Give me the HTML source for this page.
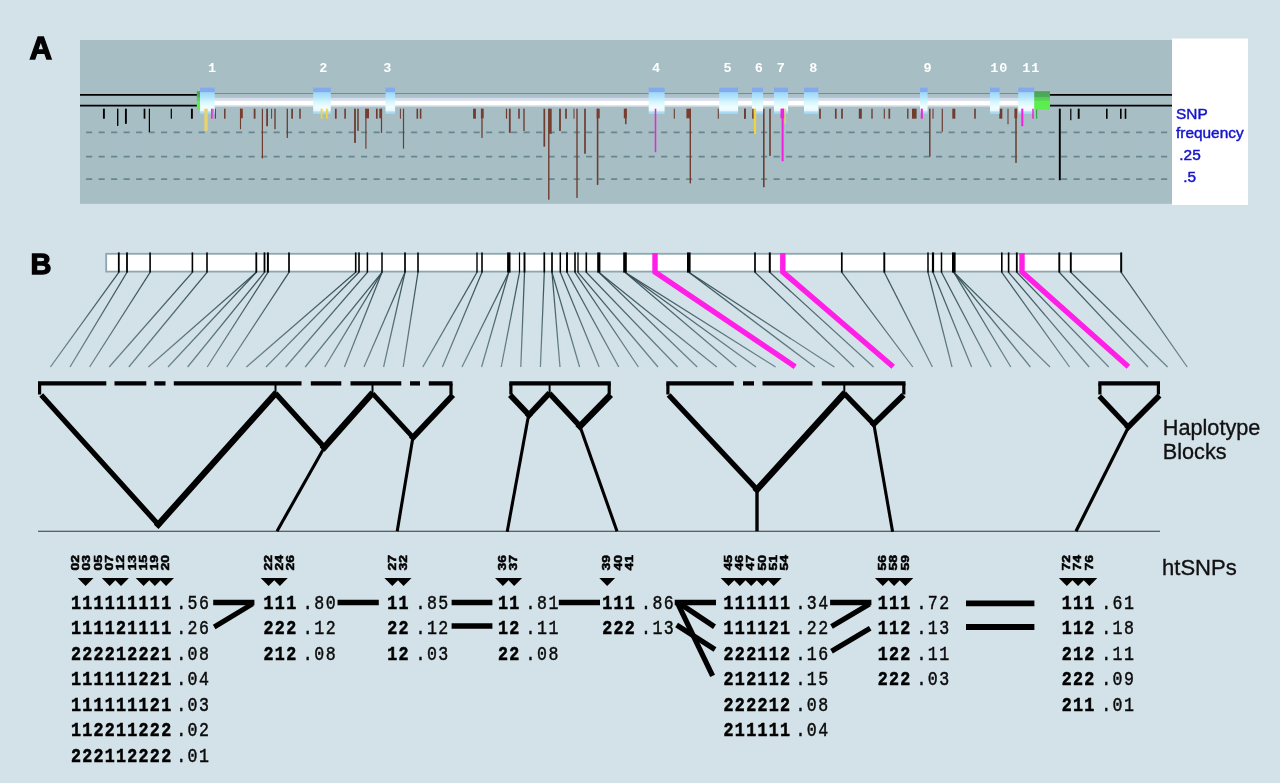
<!DOCTYPE html>
<html><head><meta charset="utf-8"><title>Figure</title>
<style>html,body{margin:0;padding:0;background:#d3e1e8;overflow:hidden}svg{display:block}text{font-family:"Liberation Sans",sans-serif}.m{font-family:"Liberation Mono",monospace}</style>
</head><body>
<svg width="1280" height="783" viewBox="0 0 1280 783">
<defs>
<linearGradient id="tube" x1="0" y1="0" x2="0" y2="1"><stop offset="0" stop-color="#6f8f95"/><stop offset="0.05" stop-color="#6f8f95"/><stop offset="0.06" stop-color="#a9bec7"/><stop offset="0.30" stop-color="#aec2cc"/><stop offset="0.34" stop-color="#d2dbe9"/><stop offset="0.52" stop-color="#dde4f0"/><stop offset="0.58" stop-color="#ffffff"/><stop offset="0.80" stop-color="#ffffff"/><stop offset="0.87" stop-color="#d6e0e8"/><stop offset="0.95" stop-color="#c0d0d8"/><stop offset="1" stop-color="#a8bdc3"/></linearGradient>
<linearGradient id="fan" gradientUnits="userSpaceOnUse" x1="0" y1="272" x2="0" y2="367"><stop offset="0" stop-color="#2c464e" stop-opacity="0.95"/><stop offset="1" stop-color="#3c5a64" stop-opacity="0.68"/></linearGradient>
<linearGradient id="exon" x1="0" y1="0" x2="0" y2="1"><stop offset="0" stop-color="#83aaec"/><stop offset="0.17" stop-color="#83aaec"/><stop offset="0.19" stop-color="#9fd6f8"/><stop offset="0.38" stop-color="#b4e6fb"/><stop offset="0.55" stop-color="#d6f6fd"/><stop offset="0.75" stop-color="#f2fdff"/><stop offset="0.88" stop-color="#e6f8ff"/><stop offset="0.93" stop-color="#a6dcf8"/><stop offset="1" stop-color="#a6dcf8"/></linearGradient>
<linearGradient id="grn" x1="0" y1="0" x2="0" y2="1"><stop offset="0" stop-color="#4aa257"/><stop offset="0.30" stop-color="#4cac58"/><stop offset="0.34" stop-color="#56c957"/><stop offset="0.50" stop-color="#58d854"/><stop offset="0.56" stop-color="#5cee4e"/><stop offset="1" stop-color="#5cee4e"/></linearGradient>
<linearGradient id="mag" x1="0" y1="0" x2="1" y2="0"><stop offset="0" stop-color="#c030c8"/><stop offset="1" stop-color="#ff7fe4"/></linearGradient>
</defs>
<rect x="0" y="0" width="1280" height="783" fill="#d3e1e8"/>
<g opacity="0.999">
<rect x="80" y="40" width="1092" height="163.8" fill="#a7bec5"/>
<rect x="1172" y="38.5" width="76" height="166.5" fill="#ffffff"/>
<line x1="86.1" y1="132.3" x2="1172" y2="132.3" stroke="#67868f" stroke-width="1.7" stroke-dasharray="6.1 6.4"/>
<line x1="86.1" y1="156.7" x2="1172" y2="156.7" stroke="#67868f" stroke-width="1.7" stroke-dasharray="6.1 6.4"/>
<line x1="86.1" y1="179.1" x2="1172" y2="179.1" stroke="#67868f" stroke-width="1.7" stroke-dasharray="6.1 6.4"/>
<line x1="80" y1="94.9" x2="197.5" y2="94.9" stroke="#000" stroke-width="1.7"/>
<line x1="1049" y1="94.9" x2="1172" y2="94.9" stroke="#000" stroke-width="1.7"/>
<line x1="80" y1="105.7" x2="197.5" y2="105.7" stroke="#000" stroke-width="1.7"/>
<line x1="1049" y1="105.7" x2="1172" y2="105.7" stroke="#000" stroke-width="1.7"/>
<rect x="205" y="93" width="830" height="14.6" fill="url(#tube)"/>
<rect x="102.95" y="108.7" width="1.90" height="10.00" fill="#000000"/>
<rect x="117.00" y="108.7" width="1.40" height="17.20" fill="#000000"/>
<rect x="124.95" y="108.7" width="1.90" height="15.10" fill="#000000"/>
<rect x="143.65" y="108.7" width="1.70" height="10.00" fill="#000000"/>
<rect x="148.80" y="108.7" width="1.20" height="23.30" fill="#000000"/>
<rect x="170.70" y="108.7" width="1.20" height="10.00" fill="#000000"/>
<rect x="190.95" y="108.7" width="1.90" height="10.00" fill="#000000"/>
<rect x="214.85" y="108.7" width="1.10" height="10.00" fill="#6e3c30"/>
<rect x="224.05" y="108.7" width="1.50" height="10.00" fill="#6e3c30"/>
<rect x="239.95" y="108.7" width="1.10" height="20.50" fill="#6e3c30"/>
<rect x="240.00" y="108.7" width="2.80" height="9.60" fill="#7a3c2d"/>
<rect x="253.70" y="108.7" width="1.80" height="10.00" fill="#6e3c30"/>
<rect x="261.80" y="108.7" width="1.20" height="49.70" fill="#6e3c30"/>
<rect x="266.20" y="108.7" width="1.80" height="17.50" fill="#6e3c30"/>
<rect x="271.10" y="108.7" width="1.00" height="10.00" fill="#6e3c30"/>
<rect x="274.30" y="108.7" width="1.40" height="20.50" fill="#6e3c30"/>
<rect x="286.65" y="108.7" width="1.30" height="29.20" fill="#6e3c30"/>
<rect x="291.25" y="108.7" width="1.70" height="10.00" fill="#6e3c30"/>
<rect x="299.25" y="108.7" width="1.50" height="10.00" fill="#6e3c30"/>
<rect x="334.95" y="108.7" width="1.70" height="10.00" fill="#6e3c30"/>
<rect x="344.30" y="108.7" width="1.60" height="10.00" fill="#6e3c30"/>
<rect x="354.10" y="108.7" width="1.80" height="34.20" fill="#6e3c30"/>
<rect x="357.25" y="108.7" width="1.50" height="22.20" fill="#6e3c30"/>
<rect x="365.30" y="108.7" width="1.20" height="40.00" fill="#6e3c30"/>
<rect x="365.40" y="108.7" width="3.60" height="9.60" fill="#7a3c2d"/>
<rect x="375.95" y="108.7" width="1.70" height="10.00" fill="#6e3c30"/>
<rect x="380.90" y="108.7" width="1.20" height="24.20" fill="#6e3c30"/>
<rect x="379.30" y="108.7" width="2.60" height="9.60" fill="#7a3c2d"/>
<rect x="399.90" y="108.7" width="1.00" height="10.00" fill="#6e3c30"/>
<rect x="402.90" y="108.7" width="1.20" height="40.00" fill="#6e3c30"/>
<rect x="416.50" y="108.7" width="1.60" height="10.00" fill="#6e3c30"/>
<rect x="419.80" y="108.7" width="1.60" height="10.00" fill="#6e3c30"/>
<rect x="473.10" y="108.7" width="2.80" height="10.00" fill="#6e3c30"/>
<rect x="481.35" y="108.7" width="1.30" height="29.20" fill="#6e3c30"/>
<rect x="480.90" y="108.7" width="2.80" height="9.60" fill="#7a3c2d"/>
<rect x="505.90" y="108.7" width="1.20" height="10.00" fill="#6e3c30"/>
<rect x="508.90" y="108.7" width="1.80" height="24.20" fill="#6e3c30"/>
<rect x="518.20" y="108.7" width="1.60" height="10.00" fill="#6e3c30"/>
<rect x="523.30" y="108.7" width="1.40" height="22.20" fill="#6e3c30"/>
<rect x="543.45" y="108.7" width="1.70" height="38.00" fill="#6e3c30"/>
<rect x="548.10" y="108.7" width="1.40" height="91.00" fill="#6e3c30"/>
<rect x="548.90" y="108.7" width="2.80" height="25.10" fill="#7a3c2d"/>
<rect x="559.10" y="108.7" width="1.80" height="22.20" fill="#6e3c30"/>
<rect x="565.15" y="108.7" width="1.70" height="10.00" fill="#6e3c30"/>
<rect x="573.50" y="108.7" width="1.00" height="10.00" fill="#6e3c30"/>
<rect x="576.30" y="108.7" width="1.40" height="89.20" fill="#6e3c30"/>
<rect x="584.15" y="108.7" width="1.70" height="45.00" fill="#6e3c30"/>
<rect x="596.80" y="108.7" width="1.60" height="76.20" fill="#6e3c30"/>
<rect x="596.70" y="108.7" width="3.00" height="9.60" fill="#7a3c2d"/>
<rect x="625.05" y="108.7" width="1.50" height="15.50" fill="#6e3c30"/>
<rect x="623.80" y="108.7" width="3.00" height="9.60" fill="#7a3c2d"/>
<rect x="673.75" y="108.7" width="1.10" height="10.00" fill="#6e3c30"/>
<rect x="689.60" y="108.7" width="1.40" height="74.70" fill="#6e3c30"/>
<rect x="686.40" y="108.7" width="4.20" height="9.60" fill="#7a3c2d"/>
<rect x="717.75" y="108.7" width="1.10" height="10.00" fill="#6e3c30"/>
<rect x="744.20" y="108.7" width="1.60" height="10.00" fill="#6e3c30"/>
<rect x="763.00" y="108.7" width="1.60" height="78.50" fill="#6e3c30"/>
<rect x="769.20" y="108.7" width="1.60" height="47.20" fill="#6e3c30"/>
<rect x="744.00" y="108.7" width="1.60" height="10.00" fill="#6e3c30"/>
<rect x="819.15" y="108.7" width="1.70" height="10.00" fill="#6e3c30"/>
<rect x="834.95" y="108.7" width="1.70" height="10.00" fill="#6e3c30"/>
<rect x="841.15" y="108.7" width="1.70" height="10.00" fill="#6e3c30"/>
<rect x="858.80" y="108.7" width="3.00" height="10.00" fill="#6e3c30"/>
<rect x="871.30" y="108.7" width="1.40" height="10.00" fill="#6e3c30"/>
<rect x="883.75" y="108.7" width="1.10" height="10.00" fill="#6e3c30"/>
<rect x="888.45" y="108.7" width="1.70" height="10.00" fill="#6e3c30"/>
<rect x="907.10" y="108.7" width="1.40" height="10.00" fill="#6e3c30"/>
<rect x="912.00" y="108.7" width="4.60" height="10.00" fill="#6e3c30"/>
<rect x="929.05" y="108.7" width="1.50" height="48.00" fill="#6e3c30"/>
<rect x="932.45" y="108.7" width="1.10" height="10.00" fill="#6e3c30"/>
<rect x="941.70" y="108.7" width="1.20" height="23.00" fill="#6e3c30"/>
<rect x="952.30" y="108.7" width="3.00" height="10.00" fill="#6e3c30"/>
<rect x="974.20" y="108.7" width="1.60" height="10.00" fill="#6e3c30"/>
<rect x="999.30" y="108.7" width="3.00" height="10.00" fill="#6e3c30"/>
<rect x="1007.45" y="108.7" width="1.10" height="15.50" fill="#6e3c30"/>
<rect x="1015.25" y="108.7" width="1.50" height="54.20" fill="#6e3c30"/>
<rect x="1014.40" y="108.7" width="2.80" height="9.60" fill="#7a3c2d"/>
<rect x="1036.00" y="108.7" width="1.20" height="10.00" fill="#2faa3c"/>
<rect x="1058.85" y="108.7" width="1.90" height="71.50" fill="#000000"/>
<rect x="1070.20" y="108.7" width="1.20" height="11.50" fill="#000000"/>
<rect x="1077.75" y="108.7" width="1.90" height="10.10" fill="#000000"/>
<rect x="1106.00" y="108.7" width="1.60" height="10.10" fill="#000000"/>
<rect x="1120.00" y="108.7" width="1.60" height="10.10" fill="#000000"/>
<rect x="1124.70" y="108.7" width="1.60" height="10.10" fill="#000000"/>
<rect x="196.8" y="91.2" width="4" height="18.8" fill="url(#grn)"/>
<rect x="1034" y="91.2" width="16" height="18.4" fill="url(#grn)"/>
<rect x="200.0" y="87.6" width="14.7" height="26.2" fill="url(#exon)"/>
<rect x="313.2" y="87.6" width="17.6" height="26.2" fill="url(#exon)"/>
<rect x="385.5" y="87.6" width="9.6" height="26.2" fill="url(#exon)"/>
<rect x="648.7" y="87.6" width="15.9" height="26.2" fill="url(#exon)"/>
<rect x="719.2" y="87.6" width="18.9" height="26.2" fill="url(#exon)"/>
<rect x="752.0" y="87.6" width="11.1" height="26.2" fill="url(#exon)"/>
<rect x="774.0" y="87.6" width="14.1" height="26.2" fill="url(#exon)"/>
<rect x="804.0" y="87.6" width="14.3" height="26.2" fill="url(#exon)"/>
<rect x="920.0" y="87.6" width="7.6" height="26.2" fill="url(#exon)"/>
<rect x="990.0" y="87.6" width="9.6" height="26.2" fill="url(#exon)"/>
<rect x="1018.2" y="87.6" width="16.0" height="26.2" fill="url(#exon)"/>
<rect x="204.30" y="108.7" width="3.40" height="22.20" fill="#e6d36e"/>
<rect x="211.00" y="108.7" width="3.00" height="10.00" fill="url(#mag)"/>
<rect x="320.70" y="108.7" width="1.80" height="10.00" fill="#f2d43a"/>
<rect x="326.00" y="108.7" width="1.80" height="10.00" fill="#f2d43a"/>
<rect x="654.75" y="108.7" width="1.50" height="43.50" fill="#f41ee0"/>
<rect x="752.15" y="108.7" width="1.50" height="10.00" fill="#6e3c30"/>
<rect x="753.90" y="108.7" width="2.20" height="25.50" fill="#f2d43a"/>
<rect x="784.50" y="108.7" width="1.40" height="15.50" fill="#f2d43a"/>
<rect x="781.60" y="108.7" width="2.00" height="52.50" fill="#f41ee0"/>
<rect x="780.50" y="108.7" width="3.60" height="9.60" fill="#f41ee0"/>
<rect x="920.80" y="108.7" width="2.00" height="10.00" fill="#f41ee0"/>
<rect x="1021.30" y="108.7" width="2.00" height="17.50" fill="#f41ee0"/>
<rect x="1032.25" y="108.7" width="1.50" height="10.00" fill="#f41ee0"/>
<text class="m" x="212.0" y="72.0" font-size="13.5" font-weight="bold" fill="#ffffff" text-anchor="middle">1</text>
<text class="m" x="323.3" y="72.0" font-size="13.5" font-weight="bold" fill="#ffffff" text-anchor="middle">2</text>
<text class="m" x="387.3" y="72.0" font-size="13.5" font-weight="bold" fill="#ffffff" text-anchor="middle">3</text>
<text class="m" x="656.0" y="72.0" font-size="13.5" font-weight="bold" fill="#ffffff" text-anchor="middle">4</text>
<text class="m" x="727.5" y="72.0" font-size="13.5" font-weight="bold" fill="#ffffff" text-anchor="middle">5</text>
<text class="m" x="758.8" y="72.0" font-size="13.5" font-weight="bold" fill="#ffffff" text-anchor="middle">6</text>
<text class="m" x="780.8" y="72.0" font-size="13.5" font-weight="bold" fill="#ffffff" text-anchor="middle">7</text>
<text class="m" x="813.3" y="72.0" font-size="13.5" font-weight="bold" fill="#ffffff" text-anchor="middle">8</text>
<text class="m" x="927.5" y="72.0" font-size="13.5" font-weight="bold" fill="#ffffff" text-anchor="middle">9</text>
<text class="m" x="994.4 1003.2" y="72.0" font-size="13.5" font-weight="bold" fill="#ffffff" text-anchor="middle">10</text>
<text class="m" x="1026.4 1035.2" y="72.0" font-size="13.5" font-weight="bold" fill="#ffffff" text-anchor="middle">11</text>
<text x="1176" y="118.7" font-size="15.4" fill="#1414cc" stroke="#1414cc" stroke-width="0.45">SNP</text>
<text x="1176" y="137.9" font-size="15.4" fill="#1414cc" stroke="#1414cc" stroke-width="0.45">frequency</text>
<text x="1179.3" y="160.1" font-size="15.4" fill="#1414cc" stroke="#1414cc" stroke-width="0.45">.25</text>
<text x="1183.2" y="182.3" font-size="15.4" fill="#1414cc" stroke="#1414cc" stroke-width="0.45">.5</text>
<text x="29.4" y="58.9" font-size="31.6" font-weight="bold" fill="#000" stroke="#000" stroke-width="1.3" textLength="22.6" lengthAdjust="spacingAndGlyphs">A</text>
<text x="30.4" y="274.0" font-size="30" font-weight="bold" fill="#000" stroke="#000" stroke-width="1.3" textLength="21.0" lengthAdjust="spacingAndGlyphs">B</text>
<rect x="106.2" y="253.8" width="1015" height="17.8" fill="#ffffff" stroke="#8da6b0" stroke-width="1.8"/>
<g stroke="url(#fan)" stroke-width="1.25" fill="none">
<line x1="118.8" y1="272.3" x2="50.4" y2="367.0"/>
<line x1="127.0" y1="272.3" x2="70.0" y2="367.0"/>
<line x1="150.1" y1="272.3" x2="89.6" y2="367.0"/>
<line x1="192.4" y1="272.3" x2="109.2" y2="367.0"/>
<line x1="207.0" y1="272.3" x2="128.8" y2="367.0"/>
<line x1="256.3" y1="272.3" x2="148.4" y2="367.0"/>
<line x1="256.3" y1="272.3" x2="168.0" y2="367.0"/>
<line x1="264.5" y1="272.3" x2="187.6" y2="367.0"/>
<line x1="267.9" y1="272.3" x2="207.2" y2="367.0"/>
<line x1="289.0" y1="272.3" x2="226.8" y2="367.0"/>
<line x1="355.7" y1="272.3" x2="246.4" y2="367.0"/>
<line x1="359.0" y1="272.3" x2="266.0" y2="367.0"/>
<line x1="367.4" y1="272.3" x2="285.6" y2="367.0"/>
<line x1="382.0" y1="272.3" x2="305.2" y2="367.0"/>
<line x1="382.0" y1="272.3" x2="324.8" y2="367.0"/>
<line x1="382.0" y1="272.3" x2="344.4" y2="367.0"/>
<line x1="405.0" y1="272.3" x2="364.0" y2="367.0"/>
<line x1="405.0" y1="272.3" x2="383.6" y2="367.0"/>
<line x1="418.0" y1="272.3" x2="403.2" y2="367.0"/>
<line x1="477.0" y1="272.3" x2="422.8" y2="367.0"/>
<line x1="482.0" y1="272.3" x2="442.4" y2="367.0"/>
<line x1="508.8" y1="272.3" x2="462.0" y2="367.0"/>
<line x1="508.8" y1="272.3" x2="481.6" y2="367.0"/>
<line x1="519.5" y1="272.3" x2="501.2" y2="367.0"/>
<line x1="524.5" y1="272.3" x2="520.8" y2="367.0"/>
<line x1="544.3" y1="272.3" x2="540.4" y2="367.0"/>
<line x1="552.0" y1="272.3" x2="560.0" y2="367.0"/>
<line x1="552.0" y1="272.3" x2="579.6" y2="367.0"/>
<line x1="560.3" y1="272.3" x2="599.2" y2="367.0"/>
<line x1="567.0" y1="272.3" x2="618.8" y2="367.0"/>
<line x1="575.0" y1="272.3" x2="638.4" y2="367.0"/>
<line x1="578.0" y1="272.3" x2="658.0" y2="367.0"/>
<line x1="586.3" y1="272.3" x2="677.6" y2="367.0"/>
<line x1="598.8" y1="272.3" x2="697.2" y2="367.0"/>
<line x1="598.8" y1="272.3" x2="716.8" y2="367.0"/>
<line x1="625.0" y1="272.3" x2="736.4" y2="367.0"/>
<line x1="625.0" y1="272.3" x2="756.0" y2="367.0"/>
<line x1="625.0" y1="272.3" x2="775.6" y2="367.0"/>
<line x1="688.8" y1="272.3" x2="814.8" y2="367.0"/>
<line x1="688.8" y1="272.3" x2="834.4" y2="367.0"/>
<line x1="755.0" y1="272.3" x2="854.0" y2="367.0"/>
<line x1="769.8" y1="272.3" x2="873.6" y2="367.0"/>
<line x1="841.8" y1="272.3" x2="912.8" y2="367.0"/>
<line x1="884.3" y1="272.3" x2="932.4" y2="367.0"/>
<line x1="928.0" y1="272.3" x2="952.0" y2="367.0"/>
<line x1="933.0" y1="272.3" x2="971.6" y2="367.0"/>
<line x1="941.5" y1="272.3" x2="991.2" y2="367.0"/>
<line x1="953.8" y1="272.3" x2="1010.8" y2="367.0"/>
<line x1="953.8" y1="272.3" x2="1030.4" y2="367.0"/>
<line x1="953.8" y1="272.3" x2="1050.0" y2="367.0"/>
<line x1="1001.8" y1="272.3" x2="1069.6" y2="367.0"/>
<line x1="1008.6" y1="272.3" x2="1089.2" y2="367.0"/>
<line x1="1016.8" y1="272.3" x2="1108.8" y2="367.0"/>
<line x1="1059.3" y1="272.3" x2="1148.0" y2="367.0"/>
<line x1="1070.8" y1="272.3" x2="1167.6" y2="367.0"/>
<line x1="1121.2" y1="272.3" x2="1187.2" y2="367.0"/>
</g>
<rect x="117.90" y="252.4" width="1.80" height="20.2" fill="#000"/>
<rect x="126.10" y="252.4" width="1.80" height="20.2" fill="#000"/>
<rect x="149.30" y="252.4" width="1.60" height="20.2" fill="#000"/>
<rect x="191.60" y="252.4" width="1.60" height="20.2" fill="#000"/>
<rect x="206.20" y="252.4" width="1.60" height="20.2" fill="#000"/>
<rect x="255.40" y="252.4" width="1.80" height="20.2" fill="#000"/>
<rect x="263.60" y="252.4" width="1.80" height="20.2" fill="#000"/>
<rect x="266.90" y="252.4" width="2.00" height="20.2" fill="#000"/>
<rect x="288.15" y="252.4" width="1.70" height="20.2" fill="#000"/>
<rect x="354.90" y="252.4" width="1.60" height="20.2" fill="#000"/>
<rect x="358.20" y="252.4" width="1.60" height="20.2" fill="#000"/>
<rect x="366.65" y="252.4" width="1.50" height="20.2" fill="#000"/>
<rect x="381.25" y="252.4" width="1.50" height="20.2" fill="#000"/>
<rect x="404.15" y="252.4" width="1.70" height="20.2" fill="#000"/>
<rect x="417.20" y="252.4" width="1.60" height="20.2" fill="#000"/>
<rect x="476.30" y="252.4" width="1.40" height="20.2" fill="#000"/>
<rect x="481.20" y="252.4" width="1.60" height="20.2" fill="#000"/>
<rect x="507.10" y="252.4" width="3.40" height="20.2" fill="#000"/>
<rect x="518.90" y="252.4" width="1.20" height="20.2" fill="#000"/>
<rect x="523.55" y="252.4" width="1.90" height="20.2" fill="#000"/>
<rect x="543.45" y="252.4" width="1.70" height="20.2" fill="#000"/>
<rect x="551.15" y="252.4" width="1.70" height="20.2" fill="#000"/>
<rect x="559.55" y="252.4" width="1.50" height="20.2" fill="#000"/>
<rect x="566.05" y="252.4" width="1.90" height="20.2" fill="#000"/>
<rect x="574.20" y="252.4" width="1.60" height="20.2" fill="#000"/>
<rect x="577.35" y="252.4" width="1.30" height="20.2" fill="#000"/>
<rect x="585.50" y="252.4" width="1.60" height="20.2" fill="#000"/>
<rect x="597.20" y="252.4" width="3.20" height="20.2" fill="#000"/>
<rect x="623.20" y="252.4" width="3.60" height="20.2" fill="#000"/>
<rect x="687.00" y="252.4" width="3.60" height="20.2" fill="#000"/>
<rect x="754.15" y="252.4" width="1.70" height="20.2" fill="#000"/>
<rect x="768.80" y="252.4" width="2.00" height="20.2" fill="#000"/>
<rect x="840.95" y="252.4" width="1.70" height="20.2" fill="#000"/>
<rect x="883.35" y="252.4" width="1.90" height="20.2" fill="#000"/>
<rect x="927.25" y="252.4" width="1.50" height="20.2" fill="#000"/>
<rect x="931.90" y="252.4" width="2.20" height="20.2" fill="#000"/>
<rect x="940.75" y="252.4" width="1.50" height="20.2" fill="#000"/>
<rect x="952.00" y="252.4" width="3.60" height="20.2" fill="#000"/>
<rect x="1001.00" y="252.4" width="1.60" height="20.2" fill="#000"/>
<rect x="1007.80" y="252.4" width="1.60" height="20.2" fill="#000"/>
<rect x="1015.90" y="252.4" width="1.80" height="20.2" fill="#000"/>
<rect x="1058.35" y="252.4" width="1.90" height="20.2" fill="#000"/>
<rect x="1069.85" y="252.4" width="1.90" height="20.2" fill="#000"/>
<rect x="1120.25" y="252.4" width="1.90" height="20.2" fill="#000"/>
<polyline points="655.0,253 655.0,272 795.2,366.7" fill="none" stroke="#ff1fe6" stroke-width="5.4" stroke-linejoin="miter"/>
<polyline points="782.8,253 782.8,272 893.2,366.7" fill="none" stroke="#ff1fe6" stroke-width="5.4" stroke-linejoin="miter"/>
<polyline points="1022.0,253 1022.0,272 1128.4,366.7" fill="none" stroke="#ff1fe6" stroke-width="5.4" stroke-linejoin="miter"/>
<line x1="38.0" y1="383.4" x2="106.3" y2="383.4" stroke="#000" stroke-width="4.3"/>
<line x1="114.5" y1="383.4" x2="146.3" y2="383.4" stroke="#000" stroke-width="4.3"/>
<line x1="154.3" y1="383.4" x2="165.5" y2="383.4" stroke="#000" stroke-width="4.3"/>
<line x1="173.8" y1="383.4" x2="301.5" y2="383.4" stroke="#000" stroke-width="4.3"/>
<line x1="310.8" y1="383.4" x2="341.3" y2="383.4" stroke="#000" stroke-width="4.3"/>
<line x1="350.5" y1="383.4" x2="401.3" y2="383.4" stroke="#000" stroke-width="4.3"/>
<line x1="410.0" y1="383.4" x2="420.0" y2="383.4" stroke="#000" stroke-width="4.3"/>
<line x1="428.8" y1="383.4" x2="452.5" y2="383.4" stroke="#000" stroke-width="4.3"/>
<line x1="509.3" y1="383.4" x2="610.8" y2="383.4" stroke="#000" stroke-width="4.3"/>
<line x1="666.3" y1="383.4" x2="733.8" y2="383.4" stroke="#000" stroke-width="4.3"/>
<line x1="743.0" y1="383.4" x2="754.0" y2="383.4" stroke="#000" stroke-width="4.3"/>
<line x1="762.5" y1="383.4" x2="812.5" y2="383.4" stroke="#000" stroke-width="4.3"/>
<line x1="821.8" y1="383.4" x2="905.5" y2="383.4" stroke="#000" stroke-width="4.3"/>
<line x1="1098.3" y1="383.4" x2="1160.0" y2="383.4" stroke="#000" stroke-width="4.3"/>
<line x1="39.6" y1="383.4" x2="39.6" y2="394.5" stroke="#000" stroke-width="3.2"/>
<line x1="451.0" y1="383.4" x2="451.0" y2="394.5" stroke="#000" stroke-width="3.2"/>
<line x1="510.9" y1="383.4" x2="510.9" y2="394.5" stroke="#000" stroke-width="3.2"/>
<line x1="609.2" y1="383.4" x2="609.2" y2="394.5" stroke="#000" stroke-width="3.2"/>
<line x1="667.9" y1="383.4" x2="667.9" y2="394.5" stroke="#000" stroke-width="3.2"/>
<line x1="903.8" y1="383.4" x2="903.8" y2="394.5" stroke="#000" stroke-width="3.2"/>
<line x1="1099.9" y1="383.4" x2="1099.9" y2="394.5" stroke="#000" stroke-width="3.2"/>
<line x1="1158.4" y1="383.4" x2="1158.4" y2="394.5" stroke="#000" stroke-width="3.2"/>
<line x1="275.5" y1="383.4" x2="275.5" y2="394.5" stroke="#000" stroke-width="2.0"/>
<line x1="372.5" y1="383.4" x2="372.5" y2="394.5" stroke="#000" stroke-width="2.0"/>
<line x1="549.6" y1="383.4" x2="549.6" y2="394.5" stroke="#000" stroke-width="2.0"/>
<line x1="844.3" y1="383.4" x2="844.3" y2="394.5" stroke="#000" stroke-width="2.0"/>
<line x1="38" y1="531.3" x2="1160" y2="531.3" stroke="#30383c" stroke-width="1.1"/>
<line x1="43.0" y1="397.0" x2="158.3" y2="524.5" stroke="#000" stroke-width="5.2" stroke-linecap="square"/>
<line x1="274.2" y1="395.0" x2="158.3" y2="524.5" stroke="#000" stroke-width="6.2" stroke-linecap="square"/>
<line x1="277.3" y1="395.3" x2="324.3" y2="447.3" stroke="#000" stroke-width="5.4" stroke-linecap="square"/>
<line x1="370.7" y1="395.0" x2="324.3" y2="447.3" stroke="#000" stroke-width="6.4" stroke-linecap="square"/>
<line x1="374.3" y1="395.3" x2="413.0" y2="437.3" stroke="#000" stroke-width="4.8" stroke-linecap="square"/>
<line x1="451.0" y1="397.0" x2="413.0" y2="437.3" stroke="#000" stroke-width="5.8" stroke-linecap="square"/>
<line x1="324.0" y1="448.0" x2="277.0" y2="531.3" stroke="#000" stroke-width="3.1"/>
<line x1="412.8" y1="438.0" x2="397.2" y2="531.3" stroke="#000" stroke-width="3.1"/>
<line x1="512.0" y1="397.0" x2="529.0" y2="415.0" stroke="#000" stroke-width="5.6" stroke-linecap="square"/>
<line x1="547.6" y1="395.0" x2="529.0" y2="415.0" stroke="#000" stroke-width="5.8" stroke-linecap="square"/>
<line x1="551.3" y1="395.3" x2="580.0" y2="426.2" stroke="#000" stroke-width="5.4" stroke-linecap="square"/>
<line x1="608.5" y1="397.0" x2="580.0" y2="426.2" stroke="#000" stroke-width="6.4" stroke-linecap="square"/>
<line x1="528.6" y1="415.0" x2="507.2" y2="531.8" stroke="#000" stroke-width="3.1"/>
<line x1="580.2" y1="427.0" x2="617.0" y2="531.3" stroke="#000" stroke-width="3.1"/>
<line x1="670.5" y1="397.0" x2="757.0" y2="489.5" stroke="#000" stroke-width="5.4" stroke-linecap="square"/>
<line x1="842.8" y1="395.0" x2="757.0" y2="489.5" stroke="#000" stroke-width="6.4" stroke-linecap="square"/>
<line x1="846.0" y1="395.3" x2="873.8" y2="424.0" stroke="#000" stroke-width="5.2" stroke-linecap="square"/>
<line x1="901.5" y1="397.0" x2="873.8" y2="424.0" stroke="#000" stroke-width="5.8" stroke-linecap="square"/>
<line x1="757.0" y1="490.0" x2="757.0" y2="531.3" stroke="#000" stroke-width="3.4"/>
<line x1="874.0" y1="425.0" x2="892.6" y2="531.8" stroke="#000" stroke-width="3.1"/>
<line x1="1101.0" y1="398.0" x2="1128.2" y2="427.0" stroke="#000" stroke-width="5.0" stroke-linecap="square"/>
<line x1="1157.5" y1="397.5" x2="1128.2" y2="427.0" stroke="#000" stroke-width="5.6" stroke-linecap="square"/>
<line x1="1128.0" y1="428.0" x2="1076.0" y2="531.3" stroke="#000" stroke-width="3.2"/>
<text x="1162.8" y="435" font-size="22.6" fill="#111" stroke="#111" stroke-width="0.35" textLength="97.6" lengthAdjust="spacingAndGlyphs">Haplotype</text>
<text x="1162.8" y="458.8" font-size="22.6" fill="#111" stroke="#111" stroke-width="0.35" textLength="63.8" lengthAdjust="spacingAndGlyphs">Blocks</text>
<text x="1162" y="575.4" font-size="22.6" fill="#111" stroke="#111" stroke-width="0.35" textLength="74.8" lengthAdjust="spacingAndGlyphs">htSNPs</text>
<text transform="translate(79.1,570.6) rotate(-90) scale(1.3,1.04)" font-size="10.8" font-weight="bold" fill="#000" stroke="#000" stroke-width="0.5">02</text>
<text transform="translate(90.4,570.6) rotate(-90) scale(1.3,1.04)" font-size="10.8" font-weight="bold" fill="#000" stroke="#000" stroke-width="0.5">03</text>
<text transform="translate(101.7,570.6) rotate(-90) scale(1.3,1.04)" font-size="10.8" font-weight="bold" fill="#000" stroke="#000" stroke-width="0.5">05</text>
<text transform="translate(112.9,570.6) rotate(-90) scale(1.3,1.04)" font-size="10.8" font-weight="bold" fill="#000" stroke="#000" stroke-width="0.5">07</text>
<text transform="translate(124.2,570.6) rotate(-90) scale(1.3,1.04)" font-size="10.8" font-weight="bold" fill="#000" stroke="#000" stroke-width="0.5">12</text>
<text transform="translate(135.5,570.6) rotate(-90) scale(1.3,1.04)" font-size="10.8" font-weight="bold" fill="#000" stroke="#000" stroke-width="0.5">13</text>
<text transform="translate(146.8,570.6) rotate(-90) scale(1.3,1.04)" font-size="10.8" font-weight="bold" fill="#000" stroke="#000" stroke-width="0.5">15</text>
<text transform="translate(158.1,570.6) rotate(-90) scale(1.3,1.04)" font-size="10.8" font-weight="bold" fill="#000" stroke="#000" stroke-width="0.5">19</text>
<text transform="translate(169.3,570.6) rotate(-90) scale(1.3,1.04)" font-size="10.8" font-weight="bold" fill="#000" stroke="#000" stroke-width="0.5">20</text>
<polygon points="77.7,578 93.5,578 85.6,586" fill="#000"/>
<polygon points="101.8,578 117.6,578 109.7,586" fill="#000"/>
<polygon points="113.1,578 128.9,578 121.0,586" fill="#000"/>
<polygon points="135.7,578 151.5,578 143.6,586" fill="#000"/>
<polygon points="147.0,578 162.8,578 154.9,586" fill="#000"/>
<polygon points="158.2,578 174.0,578 166.1,586" fill="#000"/>
<g transform="translate(0,608.80) scale(0.87,1.05)"><text class="m" x="87.24 100.21 113.17 126.14 139.10 152.07 165.03 178.00 190.97" y="0" font-size="19.2" font-weight="bold" fill="#000" stroke="#000" stroke-width="0.55" text-anchor="middle">111111111</text></g>
<g transform="translate(0,608.80) scale(0.85,1.03)"><text class="m" x="213.18 226.59 240.06" y="0" font-size="19.5" fill="#0a0a0a" stroke="#0a0a0a" stroke-width="0.45" text-anchor="middle">.56</text></g>
<g transform="translate(0,634.28) scale(0.87,1.05)"><text class="m" x="87.24 100.21 113.17 126.14 139.10 152.07 165.03 178.00 190.97" y="0" font-size="19.2" font-weight="bold" fill="#000" stroke="#000" stroke-width="0.55" text-anchor="middle">111121111</text></g>
<g transform="translate(0,634.28) scale(0.85,1.03)"><text class="m" x="213.18 226.59 240.06" y="0" font-size="19.5" fill="#0a0a0a" stroke="#0a0a0a" stroke-width="0.45" text-anchor="middle">.26</text></g>
<g transform="translate(0,659.76) scale(0.87,1.05)"><text class="m" x="87.24 100.21 113.17 126.14 139.10 152.07 165.03 178.00 190.97" y="0" font-size="19.2" font-weight="bold" fill="#000" stroke="#000" stroke-width="0.55" text-anchor="middle">222212221</text></g>
<g transform="translate(0,659.76) scale(0.85,1.03)"><text class="m" x="213.18 226.59 240.06" y="0" font-size="19.5" fill="#0a0a0a" stroke="#0a0a0a" stroke-width="0.45" text-anchor="middle">.08</text></g>
<g transform="translate(0,685.24) scale(0.87,1.05)"><text class="m" x="87.24 100.21 113.17 126.14 139.10 152.07 165.03 178.00 190.97" y="0" font-size="19.2" font-weight="bold" fill="#000" stroke="#000" stroke-width="0.55" text-anchor="middle">111111221</text></g>
<g transform="translate(0,685.24) scale(0.85,1.03)"><text class="m" x="213.18 226.59 240.06" y="0" font-size="19.5" fill="#0a0a0a" stroke="#0a0a0a" stroke-width="0.45" text-anchor="middle">.04</text></g>
<g transform="translate(0,710.72) scale(0.87,1.05)"><text class="m" x="87.24 100.21 113.17 126.14 139.10 152.07 165.03 178.00 190.97" y="0" font-size="19.2" font-weight="bold" fill="#000" stroke="#000" stroke-width="0.55" text-anchor="middle">111111121</text></g>
<g transform="translate(0,710.72) scale(0.85,1.03)"><text class="m" x="213.18 226.59 240.06" y="0" font-size="19.5" fill="#0a0a0a" stroke="#0a0a0a" stroke-width="0.45" text-anchor="middle">.03</text></g>
<g transform="translate(0,736.20) scale(0.87,1.05)"><text class="m" x="87.24 100.21 113.17 126.14 139.10 152.07 165.03 178.00 190.97" y="0" font-size="19.2" font-weight="bold" fill="#000" stroke="#000" stroke-width="0.55" text-anchor="middle">112211222</text></g>
<g transform="translate(0,736.20) scale(0.85,1.03)"><text class="m" x="213.18 226.59 240.06" y="0" font-size="19.5" fill="#0a0a0a" stroke="#0a0a0a" stroke-width="0.45" text-anchor="middle">.02</text></g>
<g transform="translate(0,761.68) scale(0.87,1.05)"><text class="m" x="87.24 100.21 113.17 126.14 139.10 152.07 165.03 178.00 190.97" y="0" font-size="19.2" font-weight="bold" fill="#000" stroke="#000" stroke-width="0.55" text-anchor="middle">222112222</text></g>
<g transform="translate(0,761.68) scale(0.85,1.03)"><text class="m" x="213.18 226.59 240.06" y="0" font-size="19.5" fill="#0a0a0a" stroke="#0a0a0a" stroke-width="0.45" text-anchor="middle">.01</text></g>
<text transform="translate(271.8,570.6) rotate(-90) scale(1.3,1.04)" font-size="10.8" font-weight="bold" fill="#000" stroke="#000" stroke-width="0.5">22</text>
<text transform="translate(283.1,570.6) rotate(-90) scale(1.3,1.04)" font-size="10.8" font-weight="bold" fill="#000" stroke="#000" stroke-width="0.5">24</text>
<text transform="translate(294.4,570.6) rotate(-90) scale(1.3,1.04)" font-size="10.8" font-weight="bold" fill="#000" stroke="#000" stroke-width="0.5">26</text>
<polygon points="260.7,578 276.5,578 268.6,586" fill="#000"/>
<polygon points="272.0,578 287.8,578 279.9,586" fill="#000"/>
<g transform="translate(0,608.80) scale(0.87,1.05)"><text class="m" x="308.74 321.70 334.67" y="0" font-size="19.2" font-weight="bold" fill="#000" stroke="#000" stroke-width="0.55" text-anchor="middle">111</text></g>
<g transform="translate(0,608.80) scale(0.85,1.03)"><text class="m" x="362.12 375.53 389.00" y="0" font-size="19.5" fill="#0a0a0a" stroke="#0a0a0a" stroke-width="0.45" text-anchor="middle">.80</text></g>
<g transform="translate(0,634.28) scale(0.87,1.05)"><text class="m" x="308.74 321.70 334.67" y="0" font-size="19.2" font-weight="bold" fill="#000" stroke="#000" stroke-width="0.55" text-anchor="middle">222</text></g>
<g transform="translate(0,634.28) scale(0.85,1.03)"><text class="m" x="362.12 375.53 389.00" y="0" font-size="19.5" fill="#0a0a0a" stroke="#0a0a0a" stroke-width="0.45" text-anchor="middle">.12</text></g>
<g transform="translate(0,659.76) scale(0.87,1.05)"><text class="m" x="308.74 321.70 334.67" y="0" font-size="19.2" font-weight="bold" fill="#000" stroke="#000" stroke-width="0.55" text-anchor="middle">212</text></g>
<g transform="translate(0,659.76) scale(0.85,1.03)"><text class="m" x="362.12 375.53 389.00" y="0" font-size="19.5" fill="#0a0a0a" stroke="#0a0a0a" stroke-width="0.45" text-anchor="middle">.08</text></g>
<text transform="translate(395.5,570.6) rotate(-90) scale(1.3,1.04)" font-size="10.8" font-weight="bold" fill="#000" stroke="#000" stroke-width="0.5">27</text>
<text transform="translate(406.8,570.6) rotate(-90) scale(1.3,1.04)" font-size="10.8" font-weight="bold" fill="#000" stroke="#000" stroke-width="0.5">32</text>
<polygon points="384.4,578 400.2,578 392.3,586" fill="#000"/>
<polygon points="395.7,578 411.5,578 403.6,586" fill="#000"/>
<g transform="translate(0,608.80) scale(0.87,1.05)"><text class="m" x="450.92 463.89" y="0" font-size="19.2" font-weight="bold" fill="#000" stroke="#000" stroke-width="0.55" text-anchor="middle">11</text></g>
<g transform="translate(0,608.80) scale(0.85,1.03)"><text class="m" x="494.71 508.12 521.59" y="0" font-size="19.5" fill="#0a0a0a" stroke="#0a0a0a" stroke-width="0.45" text-anchor="middle">.85</text></g>
<g transform="translate(0,634.28) scale(0.87,1.05)"><text class="m" x="450.92 463.89" y="0" font-size="19.2" font-weight="bold" fill="#000" stroke="#000" stroke-width="0.55" text-anchor="middle">22</text></g>
<g transform="translate(0,634.28) scale(0.85,1.03)"><text class="m" x="494.71 508.12 521.59" y="0" font-size="19.5" fill="#0a0a0a" stroke="#0a0a0a" stroke-width="0.45" text-anchor="middle">.12</text></g>
<g transform="translate(0,659.76) scale(0.87,1.05)"><text class="m" x="450.92 463.89" y="0" font-size="19.2" font-weight="bold" fill="#000" stroke="#000" stroke-width="0.55" text-anchor="middle">12</text></g>
<g transform="translate(0,659.76) scale(0.85,1.03)"><text class="m" x="494.71 508.12 521.59" y="0" font-size="19.5" fill="#0a0a0a" stroke="#0a0a0a" stroke-width="0.45" text-anchor="middle">.03</text></g>
<text transform="translate(506.1,570.6) rotate(-90) scale(1.3,1.04)" font-size="10.8" font-weight="bold" fill="#000" stroke="#000" stroke-width="0.5">36</text>
<text transform="translate(517.4,570.6) rotate(-90) scale(1.3,1.04)" font-size="10.8" font-weight="bold" fill="#000" stroke="#000" stroke-width="0.5">37</text>
<polygon points="495.0,578 510.8,578 502.9,586" fill="#000"/>
<polygon points="506.3,578 522.1,578 514.2,586" fill="#000"/>
<g transform="translate(0,608.80) scale(0.87,1.05)"><text class="m" x="578.05 591.01" y="0" font-size="19.2" font-weight="bold" fill="#000" stroke="#000" stroke-width="0.55" text-anchor="middle">11</text></g>
<g transform="translate(0,608.80) scale(0.85,1.03)"><text class="m" x="624.24 637.65 651.12" y="0" font-size="19.5" fill="#0a0a0a" stroke="#0a0a0a" stroke-width="0.45" text-anchor="middle">.81</text></g>
<g transform="translate(0,634.28) scale(0.87,1.05)"><text class="m" x="578.05 591.01" y="0" font-size="19.2" font-weight="bold" fill="#000" stroke="#000" stroke-width="0.55" text-anchor="middle">12</text></g>
<g transform="translate(0,634.28) scale(0.85,1.03)"><text class="m" x="624.24 637.65 651.12" y="0" font-size="19.5" fill="#0a0a0a" stroke="#0a0a0a" stroke-width="0.45" text-anchor="middle">.11</text></g>
<g transform="translate(0,659.76) scale(0.87,1.05)"><text class="m" x="578.05 591.01" y="0" font-size="19.2" font-weight="bold" fill="#000" stroke="#000" stroke-width="0.55" text-anchor="middle">22</text></g>
<g transform="translate(0,659.76) scale(0.85,1.03)"><text class="m" x="624.24 637.65 651.12" y="0" font-size="19.5" fill="#0a0a0a" stroke="#0a0a0a" stroke-width="0.45" text-anchor="middle">.08</text></g>
<text transform="translate(610.4,570.6) rotate(-90) scale(1.3,1.04)" font-size="10.8" font-weight="bold" fill="#000" stroke="#000" stroke-width="0.5">39</text>
<text transform="translate(621.7,570.6) rotate(-90) scale(1.3,1.04)" font-size="10.8" font-weight="bold" fill="#000" stroke="#000" stroke-width="0.5">40</text>
<text transform="translate(633.0,570.6) rotate(-90) scale(1.3,1.04)" font-size="10.8" font-weight="bold" fill="#000" stroke="#000" stroke-width="0.5">41</text>
<polygon points="599.3,578 615.1,578 607.2,586" fill="#000"/>
<g transform="translate(0,608.80) scale(0.87,1.05)"><text class="m" x="697.93 710.90 723.86" y="0" font-size="19.2" font-weight="bold" fill="#000" stroke="#000" stroke-width="0.55" text-anchor="middle">111</text></g>
<g transform="translate(0,608.80) scale(0.85,1.03)"><text class="m" x="760.00 773.41 786.88" y="0" font-size="19.5" fill="#0a0a0a" stroke="#0a0a0a" stroke-width="0.45" text-anchor="middle">.86</text></g>
<g transform="translate(0,634.28) scale(0.87,1.05)"><text class="m" x="697.93 710.90 723.86" y="0" font-size="19.2" font-weight="bold" fill="#000" stroke="#000" stroke-width="0.55" text-anchor="middle">222</text></g>
<g transform="translate(0,634.28) scale(0.85,1.03)"><text class="m" x="760.00 773.41 786.88" y="0" font-size="19.5" fill="#0a0a0a" stroke="#0a0a0a" stroke-width="0.45" text-anchor="middle">.13</text></g>
<text transform="translate(731.8,570.6) rotate(-90) scale(1.3,1.04)" font-size="10.8" font-weight="bold" fill="#000" stroke="#000" stroke-width="0.5">45</text>
<text transform="translate(743.1,570.6) rotate(-90) scale(1.3,1.04)" font-size="10.8" font-weight="bold" fill="#000" stroke="#000" stroke-width="0.5">46</text>
<text transform="translate(754.4,570.6) rotate(-90) scale(1.3,1.04)" font-size="10.8" font-weight="bold" fill="#000" stroke="#000" stroke-width="0.5">47</text>
<text transform="translate(765.6,570.6) rotate(-90) scale(1.3,1.04)" font-size="10.8" font-weight="bold" fill="#000" stroke="#000" stroke-width="0.5">50</text>
<text transform="translate(776.9,570.6) rotate(-90) scale(1.3,1.04)" font-size="10.8" font-weight="bold" fill="#000" stroke="#000" stroke-width="0.5">51</text>
<text transform="translate(788.2,570.6) rotate(-90) scale(1.3,1.04)" font-size="10.8" font-weight="bold" fill="#000" stroke="#000" stroke-width="0.5">54</text>
<polygon points="720.7,578 736.5,578 728.6,586" fill="#000"/>
<polygon points="732.0,578 747.8,578 739.9,586" fill="#000"/>
<polygon points="743.3,578 759.1,578 751.2,586" fill="#000"/>
<polygon points="754.5,578 770.3,578 762.4,586" fill="#000"/>
<polygon points="765.8,578 781.6,578 773.7,586" fill="#000"/>
<g transform="translate(0,608.80) scale(0.87,1.05)"><text class="m" x="837.47 850.44 863.40 876.37 889.33 902.30" y="0" font-size="19.2" font-weight="bold" fill="#000" stroke="#000" stroke-width="0.55" text-anchor="middle">111111</text></g>
<g transform="translate(0,608.80) scale(0.85,1.03)"><text class="m" x="941.65 955.06 968.53" y="0" font-size="19.5" fill="#0a0a0a" stroke="#0a0a0a" stroke-width="0.45" text-anchor="middle">.34</text></g>
<g transform="translate(0,634.28) scale(0.87,1.05)"><text class="m" x="837.47 850.44 863.40 876.37 889.33 902.30" y="0" font-size="19.2" font-weight="bold" fill="#000" stroke="#000" stroke-width="0.55" text-anchor="middle">111121</text></g>
<g transform="translate(0,634.28) scale(0.85,1.03)"><text class="m" x="941.65 955.06 968.53" y="0" font-size="19.5" fill="#0a0a0a" stroke="#0a0a0a" stroke-width="0.45" text-anchor="middle">.22</text></g>
<g transform="translate(0,659.76) scale(0.87,1.05)"><text class="m" x="837.47 850.44 863.40 876.37 889.33 902.30" y="0" font-size="19.2" font-weight="bold" fill="#000" stroke="#000" stroke-width="0.55" text-anchor="middle">222112</text></g>
<g transform="translate(0,659.76) scale(0.85,1.03)"><text class="m" x="941.65 955.06 968.53" y="0" font-size="19.5" fill="#0a0a0a" stroke="#0a0a0a" stroke-width="0.45" text-anchor="middle">.16</text></g>
<g transform="translate(0,685.24) scale(0.87,1.05)"><text class="m" x="837.47 850.44 863.40 876.37 889.33 902.30" y="0" font-size="19.2" font-weight="bold" fill="#000" stroke="#000" stroke-width="0.55" text-anchor="middle">212112</text></g>
<g transform="translate(0,685.24) scale(0.85,1.03)"><text class="m" x="941.65 955.06 968.53" y="0" font-size="19.5" fill="#0a0a0a" stroke="#0a0a0a" stroke-width="0.45" text-anchor="middle">.15</text></g>
<g transform="translate(0,710.72) scale(0.87,1.05)"><text class="m" x="837.47 850.44 863.40 876.37 889.33 902.30" y="0" font-size="19.2" font-weight="bold" fill="#000" stroke="#000" stroke-width="0.55" text-anchor="middle">222212</text></g>
<g transform="translate(0,710.72) scale(0.85,1.03)"><text class="m" x="941.65 955.06 968.53" y="0" font-size="19.5" fill="#0a0a0a" stroke="#0a0a0a" stroke-width="0.45" text-anchor="middle">.08</text></g>
<g transform="translate(0,736.20) scale(0.87,1.05)"><text class="m" x="837.47 850.44 863.40 876.37 889.33 902.30" y="0" font-size="19.2" font-weight="bold" fill="#000" stroke="#000" stroke-width="0.55" text-anchor="middle">211111</text></g>
<g transform="translate(0,736.20) scale(0.85,1.03)"><text class="m" x="941.65 955.06 968.53" y="0" font-size="19.5" fill="#0a0a0a" stroke="#0a0a0a" stroke-width="0.45" text-anchor="middle">.04</text></g>
<text transform="translate(886.0,570.6) rotate(-90) scale(1.3,1.04)" font-size="10.8" font-weight="bold" fill="#000" stroke="#000" stroke-width="0.5">56</text>
<text transform="translate(897.3,570.6) rotate(-90) scale(1.3,1.04)" font-size="10.8" font-weight="bold" fill="#000" stroke="#000" stroke-width="0.5">58</text>
<text transform="translate(908.6,570.6) rotate(-90) scale(1.3,1.04)" font-size="10.8" font-weight="bold" fill="#000" stroke="#000" stroke-width="0.5">59</text>
<polygon points="874.9,578 890.7,578 882.8,586" fill="#000"/>
<polygon points="886.2,578 902.0,578 894.1,586" fill="#000"/>
<polygon points="897.5,578 913.3,578 905.4,586" fill="#000"/>
<g transform="translate(0,608.80) scale(0.87,1.05)"><text class="m" x="1014.71 1027.68 1040.64" y="0" font-size="19.2" font-weight="bold" fill="#000" stroke="#000" stroke-width="0.55" text-anchor="middle">111</text></g>
<g transform="translate(0,608.80) scale(0.85,1.03)"><text class="m" x="1084.00 1097.41 1110.88" y="0" font-size="19.5" fill="#0a0a0a" stroke="#0a0a0a" stroke-width="0.45" text-anchor="middle">.72</text></g>
<g transform="translate(0,634.28) scale(0.87,1.05)"><text class="m" x="1014.71 1027.68 1040.64" y="0" font-size="19.2" font-weight="bold" fill="#000" stroke="#000" stroke-width="0.55" text-anchor="middle">112</text></g>
<g transform="translate(0,634.28) scale(0.85,1.03)"><text class="m" x="1084.00 1097.41 1110.88" y="0" font-size="19.5" fill="#0a0a0a" stroke="#0a0a0a" stroke-width="0.45" text-anchor="middle">.13</text></g>
<g transform="translate(0,659.76) scale(0.87,1.05)"><text class="m" x="1014.71 1027.68 1040.64" y="0" font-size="19.2" font-weight="bold" fill="#000" stroke="#000" stroke-width="0.55" text-anchor="middle">122</text></g>
<g transform="translate(0,659.76) scale(0.85,1.03)"><text class="m" x="1084.00 1097.41 1110.88" y="0" font-size="19.5" fill="#0a0a0a" stroke="#0a0a0a" stroke-width="0.45" text-anchor="middle">.11</text></g>
<g transform="translate(0,685.24) scale(0.87,1.05)"><text class="m" x="1014.71 1027.68 1040.64" y="0" font-size="19.2" font-weight="bold" fill="#000" stroke="#000" stroke-width="0.55" text-anchor="middle">222</text></g>
<g transform="translate(0,685.24) scale(0.85,1.03)"><text class="m" x="1084.00 1097.41 1110.88" y="0" font-size="19.5" fill="#0a0a0a" stroke="#0a0a0a" stroke-width="0.45" text-anchor="middle">.03</text></g>
<text transform="translate(1070.0,570.6) rotate(-90) scale(1.3,1.04)" font-size="10.8" font-weight="bold" fill="#000" stroke="#000" stroke-width="0.5">72</text>
<text transform="translate(1081.3,570.6) rotate(-90) scale(1.3,1.04)" font-size="10.8" font-weight="bold" fill="#000" stroke="#000" stroke-width="0.5">74</text>
<text transform="translate(1092.6,570.6) rotate(-90) scale(1.3,1.04)" font-size="10.8" font-weight="bold" fill="#000" stroke="#000" stroke-width="0.5">76</text>
<polygon points="1058.9,578 1074.7,578 1066.8,586" fill="#000"/>
<polygon points="1070.2,578 1086.0,578 1078.1,586" fill="#000"/>
<polygon points="1081.5,578 1097.3,578 1089.4,586" fill="#000"/>
<g transform="translate(0,608.80) scale(0.87,1.05)"><text class="m" x="1226.21 1239.17 1252.14" y="0" font-size="19.2" font-weight="bold" fill="#000" stroke="#000" stroke-width="0.55" text-anchor="middle">111</text></g>
<g transform="translate(0,608.80) scale(0.85,1.03)"><text class="m" x="1301.41 1314.82 1328.29" y="0" font-size="19.5" fill="#0a0a0a" stroke="#0a0a0a" stroke-width="0.45" text-anchor="middle">.61</text></g>
<g transform="translate(0,634.28) scale(0.87,1.05)"><text class="m" x="1226.21 1239.17 1252.14" y="0" font-size="19.2" font-weight="bold" fill="#000" stroke="#000" stroke-width="0.55" text-anchor="middle">112</text></g>
<g transform="translate(0,634.28) scale(0.85,1.03)"><text class="m" x="1301.41 1314.82 1328.29" y="0" font-size="19.5" fill="#0a0a0a" stroke="#0a0a0a" stroke-width="0.45" text-anchor="middle">.18</text></g>
<g transform="translate(0,659.76) scale(0.87,1.05)"><text class="m" x="1226.21 1239.17 1252.14" y="0" font-size="19.2" font-weight="bold" fill="#000" stroke="#000" stroke-width="0.55" text-anchor="middle">212</text></g>
<g transform="translate(0,659.76) scale(0.85,1.03)"><text class="m" x="1301.41 1314.82 1328.29" y="0" font-size="19.5" fill="#0a0a0a" stroke="#0a0a0a" stroke-width="0.45" text-anchor="middle">.11</text></g>
<g transform="translate(0,685.24) scale(0.87,1.05)"><text class="m" x="1226.21 1239.17 1252.14" y="0" font-size="19.2" font-weight="bold" fill="#000" stroke="#000" stroke-width="0.55" text-anchor="middle">222</text></g>
<g transform="translate(0,685.24) scale(0.85,1.03)"><text class="m" x="1301.41 1314.82 1328.29" y="0" font-size="19.5" fill="#0a0a0a" stroke="#0a0a0a" stroke-width="0.45" text-anchor="middle">.09</text></g>
<g transform="translate(0,710.72) scale(0.87,1.05)"><text class="m" x="1226.21 1239.17 1252.14" y="0" font-size="19.2" font-weight="bold" fill="#000" stroke="#000" stroke-width="0.55" text-anchor="middle">211</text></g>
<g transform="translate(0,710.72) scale(0.85,1.03)"><text class="m" x="1301.41 1314.82 1328.29" y="0" font-size="19.5" fill="#0a0a0a" stroke="#0a0a0a" stroke-width="0.45" text-anchor="middle">.01</text></g>
<line x1="213.2" y1="602.4" x2="254.4" y2="602.4" stroke="#000" stroke-width="5.5"/>
<line x1="214.2" y1="627.0" x2="252.5" y2="603.9" stroke="#000" stroke-width="5.1"/>
<line x1="337.5" y1="602.4" x2="378.8" y2="602.4" stroke="#000" stroke-width="5.5"/>
<line x1="451.6" y1="602.4" x2="492.4" y2="602.4" stroke="#000" stroke-width="5.5"/>
<line x1="451.6" y1="625.9" x2="492.4" y2="625.9" stroke="#000" stroke-width="5.5"/>
<line x1="558.8" y1="602.4" x2="600.0" y2="602.4" stroke="#000" stroke-width="5.5"/>
<line x1="674.7" y1="602.4" x2="716.0" y2="602.4" stroke="#000" stroke-width="5.5"/>
<line x1="679.0" y1="603.0" x2="714.5" y2="626.8" stroke="#000" stroke-width="5.3"/>
<line x1="677.6" y1="603.2" x2="712.6" y2="675.8" stroke="#000" stroke-width="5.3"/>
<line x1="676.6" y1="625.0" x2="715.0" y2="649.5" stroke="#000" stroke-width="5.3"/>
<line x1="830.1" y1="602.4" x2="871.4" y2="602.4" stroke="#000" stroke-width="5.5"/>
<line x1="831.5" y1="626.4" x2="869.5" y2="604.0" stroke="#000" stroke-width="5.2"/>
<line x1="831.5" y1="651.2" x2="870.2" y2="628.2" stroke="#000" stroke-width="5.2"/>
<line x1="966.0" y1="603.3" x2="1034.4" y2="603.3" stroke="#000" stroke-width="5.8"/>
<line x1="966.0" y1="627.0" x2="1034.4" y2="627.0" stroke="#000" stroke-width="5.8"/>
</g>
</svg>
</body></html>
